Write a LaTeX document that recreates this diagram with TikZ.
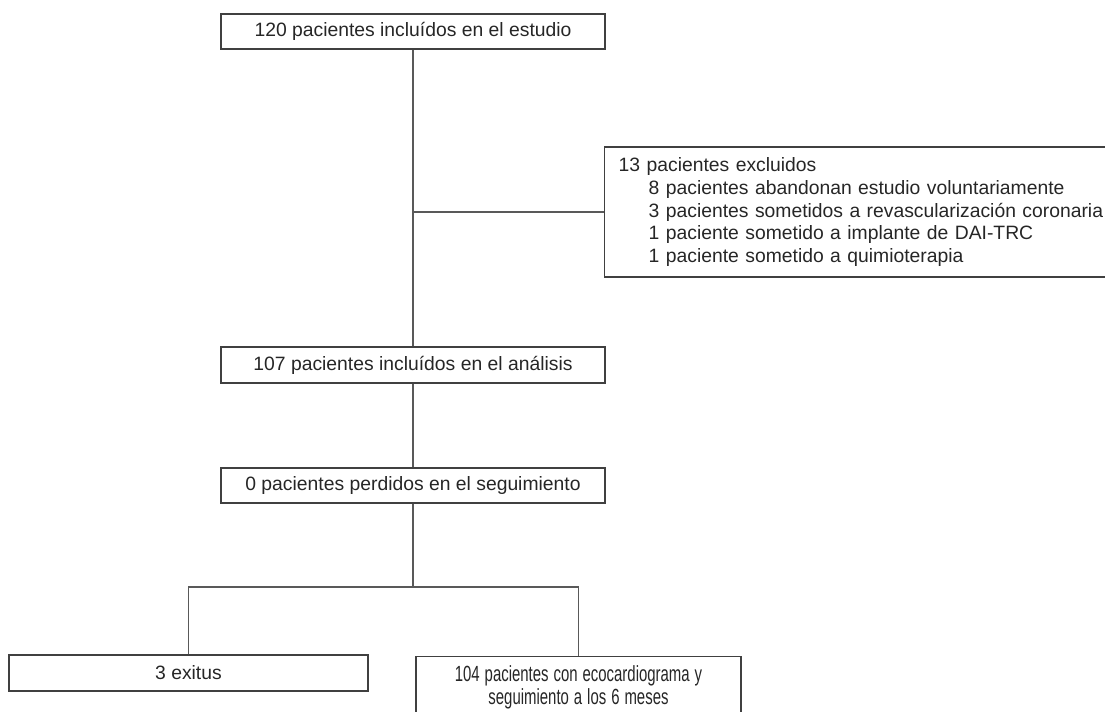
\documentclass[tikz,border=0pt]{standalone}
\usepackage{fontspec}
\setmainfont{Liberation Sans}
\newcommand{\narrowline}[1]{\scalebox{0.68}[1]{#1}}
\begin{document}
\begin{tikzpicture}[x=0.02cm,y=-0.02cm]
\useasboundingbox (0,0) rectangle (1105,711);
\tikzstyle{every node}=[draw=black!75,line width=0.8pt,text=black!85,font=\fontsize{11}{12.9}\selectfont,inner sep=0pt];
\node[minimum width=7.68cm,minimum height=0.7cm] (incl) at (413,31.5) {120 pacientes incluídos en el estudio};
\node[anchor=west,minimum height=2.6cm,text width=9.8cm,inner xsep=0.28cm,align=left] (excl) at (604,212)
{13 pacientes excluidos\\
\hspace*{0.6cm}8 pacientes abandonan estudio voluntariamente\\
\hspace*{0.6cm}3 pacientes sometidos a revascularización coronaria\\
\hspace*{0.6cm}1 paciente sometido a implante de DAI-TRC\\
\hspace*{0.6cm}1 paciente sometido a quimioterapia};
\node[minimum width=7.68cm,minimum height=0.72cm] (anal) at (413,365) {107 pacientes incluídos en el análisis};
\node[minimum width=7.68cm,minimum height=0.7cm] (perd) at (413,485.5) {0 pacientes perdidos en el seguimiento};
\node[minimum width=7.18cm,minimum height=0.72cm] (exit) at (188.5,673) {3 exitus};
\node[anchor=north,text width=6.5cm,align=center,inner ysep=0.18cm,font=\fontsize{12.5}{13}\selectfont] (eco) at (578.5,656)
{\narrowline{104 pacientes con ecocardiograma y}\\ \narrowline{seguimiento a los 6 meses}};
\coordinate (fork) at (413,587);
\draw[line width=0.8pt,black!65] (incl) -- (anal)
(incl |- excl.west) -- (excl.west)
(anal) -- (perd)
(perd) -- (fork)
(exit.north) |- (fork) -| (eco.north);
\end{tikzpicture}
\end{document}
